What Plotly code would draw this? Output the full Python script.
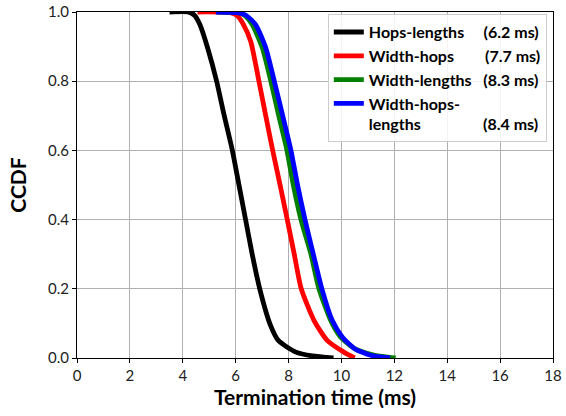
import plotly.graph_objects as go

# ---- data ----
NB = "\u00a0"
labels = ["Hops-lengths", "Width-hops", "Width-lengths", "Width-hops-<br>lengths"]
means = ["(6.2 ms)", "(7.7 ms)", "(8.3 ms)", "(8.4 ms)"]
pads = [5, 8, 3, 16]
colors = ["black", "red", "green", "blue"]

x_hops_lengths = [3.5, 4.2, 4.45, 4.65, 4.94, 5.28, 5.56, 5.875, 6.125, 6.375, 6.625, 6.91, 7.31, 7.62, 8.28, 8.9, 9.7]
y_hops_lengths = [1.0, 1.0, 0.99, 0.963, 0.896, 0.8, 0.703, 0.6, 0.5, 0.4, 0.3, 0.2, 0.096, 0.05, 0.017, 0.006, 0.0]

x_width_hops = [4.56, 5.8, 6.05, 6.3, 6.57, 6.88, 7.13, 7.4, 7.68, 7.95, 8.21, 8.48, 8.96, 9.46, 10.09, 10.5]
y_width_hops = [1.0, 0.998, 0.99, 0.963, 0.915, 0.8, 0.703, 0.6, 0.5, 0.4, 0.302, 0.2, 0.109, 0.051, 0.017, 0.0]

x_width_lengths = [5.3, 6.1, 6.35, 6.63, 7.01, 7.33, 7.62, 7.94, 8.18, 8.47, 8.84, 9.15, 9.59, 9.96, 10.5, 11.15, 11.6, 12.05]
y_width_lengths = [1.0, 0.998, 0.99, 0.963, 0.896, 0.8, 0.703, 0.6, 0.5, 0.4, 0.302, 0.2, 0.109, 0.061, 0.027, 0.01, 0.004, 0.0]

x_width_hops_lengths = [5.25, 6.06, 6.4, 6.76, 7.14, 7.46, 7.77, 8.09, 8.34, 8.62, 8.93, 9.26, 9.65, 10.03, 10.5, 11.1, 11.84]
y_width_hops_lengths = [1.0, 0.998, 0.99, 0.963, 0.896, 0.8, 0.703, 0.6, 0.5, 0.4, 0.302, 0.2, 0.109, 0.061, 0.027, 0.008, 0.0]

x_ticks = list(range(0, 19, 2))
y_ticks = [0.0, 0.2, 0.4, 0.6, 0.8, 1.0]
y_tick_labels = ["0.0", "0.2", "0.4", "0.6", "0.8", "1.0"]

xs = [x_hops_lengths, x_width_hops, x_width_lengths, x_width_hops_lengths]
ys = [y_hops_lengths, y_width_hops, y_width_lengths, y_width_hops_lengths]

FONT = "Lato"

fig = go.Figure()
for i in range(4):
    nm = "<b>" + labels[i] + NB * pads[i] + means[i] + "</b>"
    fig.add_trace(go.Scatter(x=xs[i], y=ys[i], mode="lines", name=nm,
                             line=dict(color=colors[i], width=4.8, shape="spline", smoothing=0.6)))

axis_common = dict(showline=True, linecolor="black", linewidth=1, mirror=True,
                   showgrid=True, gridcolor="#b0b0b0", gridwidth=1,
                   ticks="outside", ticklen=4, tickcolor="black",
                   tickfont=dict(family=FONT, size=15, color="#222"),
                   zeroline=False)

fig.update_layout(
    width=566, height=416,
    margin=dict(l=77, r=13, t=12, b=58),
    paper_bgcolor="white", plot_bgcolor="white",
    showlegend=True,
    legend=dict(x=0.987, y=0.994, xanchor="right", yanchor="top",
                bgcolor="rgba(255,255,255,0.85)", bordercolor="#cccccc", borderwidth=1,
                font=dict(family=FONT, size=16, color="black"),
                itemwidth=30, valign="top", tracegroupgap=0),
    xaxis=dict(range=[0, 18], tickvals=x_ticks, automargin="bottom",
               title=dict(text="<b>Termination time (ms)</b>", standoff=6,
                          font=dict(family=FONT, size=21, color="black")),
               **axis_common),
    yaxis=dict(range=[0, 1], tickvals=y_ticks, ticktext=y_tick_labels, automargin=False,
               title=dict(text="<b>CCDF</b>", font=dict(family=FONT, size=21, color="black")),
               **axis_common),
)

fig.write_html("out.html", config={"displayModeBar": False},
               post_script="document.body.style.margin='0';document.body.style.overflow='hidden';")
